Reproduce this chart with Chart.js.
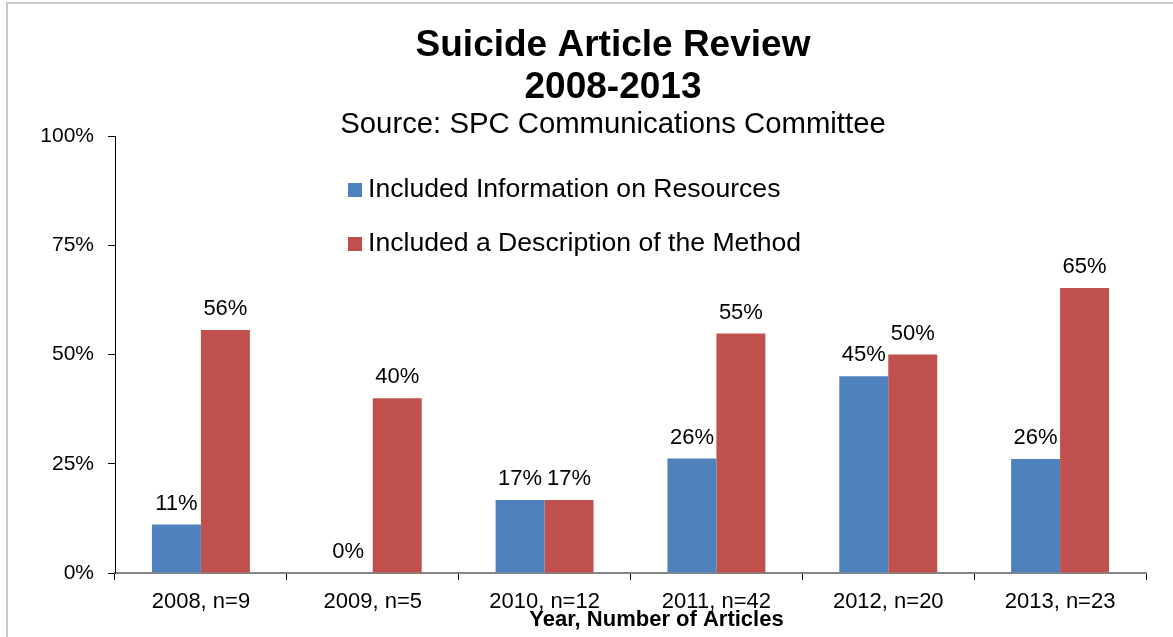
<!DOCTYPE html>
<html lang="en">

<head>
    <meta charset="UTF-8">
    <title>Suicide Article Review</title>
    <script src="https://cdn.jsdelivr.net/npm/chart.js"></script>
    <style>
        body {
            margin: 0;
            background: #FFFFFF;
        }

        canvas {
            display: block;
        }
    </style>
</head>

<body>
    <canvas id="reviewChart" width="1173" height="637"></canvas>

    <script>
        const years = ['2008, n=9', '2009, n=5', '2010, n=12', '2011, n=42', '2012, n=20', '2013, n=23'];
        const resources = [11.1, 0, 16.7, 26.2, 45, 26.1];
        const method = [55.6, 40, 16.7, 54.8, 50, 65.2];
        const seriesNames = ['Included Information on Resources', 'Included a Description of the Method'];
        const yTicks = [0, 25, 50, 75, 100];
        const titleLines = ['Suicide Article Review', '2008-2013'];
        const subtitle = 'Source: SPC Communications Committee';
        const xTitle = 'Year, Number of Articles';

        const FONT = "'Liberation Sans', Arial, sans-serif";
        Chart.defaults.font.family = FONT;
        Chart.defaults.color = '#000';

        // grey frame, white background and the titles
        const frame = {
            id: 'frame',
            beforeDraw(chart) {
                const c = chart.ctx;
                c.save();
                c.fillStyle = '#FFFFFF';
                c.fillRect(0, 0, chart.width, chart.height);
                c.strokeStyle = '#C8C8C8';
                c.lineWidth = 2;
                c.strokeRect(7, 3, chart.width + 20, chart.height + 20);

                // the title block sits a bit right of the canvas centre, like the original
                const cx = 613;
                c.fillStyle = '#000';
                c.textAlign = 'center';
                c.textBaseline = 'middle';
                c.font = 'bold 37px ' + FONT;
                c.fillText(titleLines[0], cx, 46);
                c.fillText(titleLines[1], cx, 88);
                c.font = '29.3px ' + FONT;
                c.fillText(subtitle, cx, 125);
                c.restore();
            }
        };

        // value labels, legend inside the plot and x axis title
        const extras = {
            id: 'extras',
            afterDatasetsDraw(chart) {
                const c = chart.ctx;
                const area = chart.chartArea;
                c.save();
                c.fillStyle = '#000';
                c.font = '22px ' + FONT;
                c.textAlign = 'center';
                c.textBaseline = 'middle';
                chart.data.datasets.forEach((ds, i) => {
                    chart.getDatasetMeta(i).data.forEach((bar, j) => {
                        c.fillText(Math.round(ds.data[j]) + '%', bar.x, bar.y - 21);
                    });
                });

                // legend
                c.textAlign = 'left';
                c.font = '26.6px ' + FONT;
                chart.data.datasets.forEach((ds, i) => {
                    const y = area.top + 54 + i * 54;
                    c.fillStyle = ds.backgroundColor;
                    c.fillRect(area.left + 233, y - 7, 14, 14);
                    c.fillStyle = '#000';
                    c.fillText(ds.label, area.left + 253, y);
                });

                // axis title
                c.textAlign = 'center';
                c.font = 'bold 22px ' + FONT;
                c.fillText(xTitle, (area.left + area.right) / 2 + 26, 620);
                c.restore();
            }
        };

        new Chart(document.getElementById('reviewChart'), {
            type: 'bar',
            data: {
                labels: years,
                datasets: [{
                    label: seriesNames[0],
                    data: resources,
                    backgroundColor: '#4F81BD'
                }, {
                    label: seriesNames[1],
                    data: method,
                    backgroundColor: '#C0504D'
                }]
            },
            options: {
                responsive: false,
                animation: false,
                devicePixelRatio: 1,
                layout: {
                    padding: { left: 0, right: 27, top: 136, bottom: 0 }
                },
                datasets: {
                    bar: { categoryPercentage: 0.57, barPercentage: 1.0, borderWidth: 0 }
                },
                plugins: {
                    legend: { display: false },
                    tooltip: { enabled: false }
                },
                scales: {
                    x: {
                        grid: { drawOnChartArea: false, color: '#000', tickLength: 7, offset: true },
                        border: { color: '#868686', width: 2 },
                        ticks: { font: { size: 22 }, padding: 9, color: '#000' },
                        afterFit(scale) { scale.height = 64; }
                    },
                    y: {
                        min: 0,
                        max: 100,
                        afterBuildTicks(scale) { scale.ticks = yTicks.map(v => ({ value: v })); },
                        grid: { drawOnChartArea: false, color: '#000', tickLength: 7 },
                        border: { color: '#000', width: 1 },
                        ticks: {
                            font: { size: 21 },
                            padding: 14,
                            color: '#000',
                            callback: v => v + '%'
                        },
                        afterFit(scale) { scale.width = 115; }
                    }
                }
            },
            plugins: [frame, extras]
        });
    </script>
</body>

</html>
